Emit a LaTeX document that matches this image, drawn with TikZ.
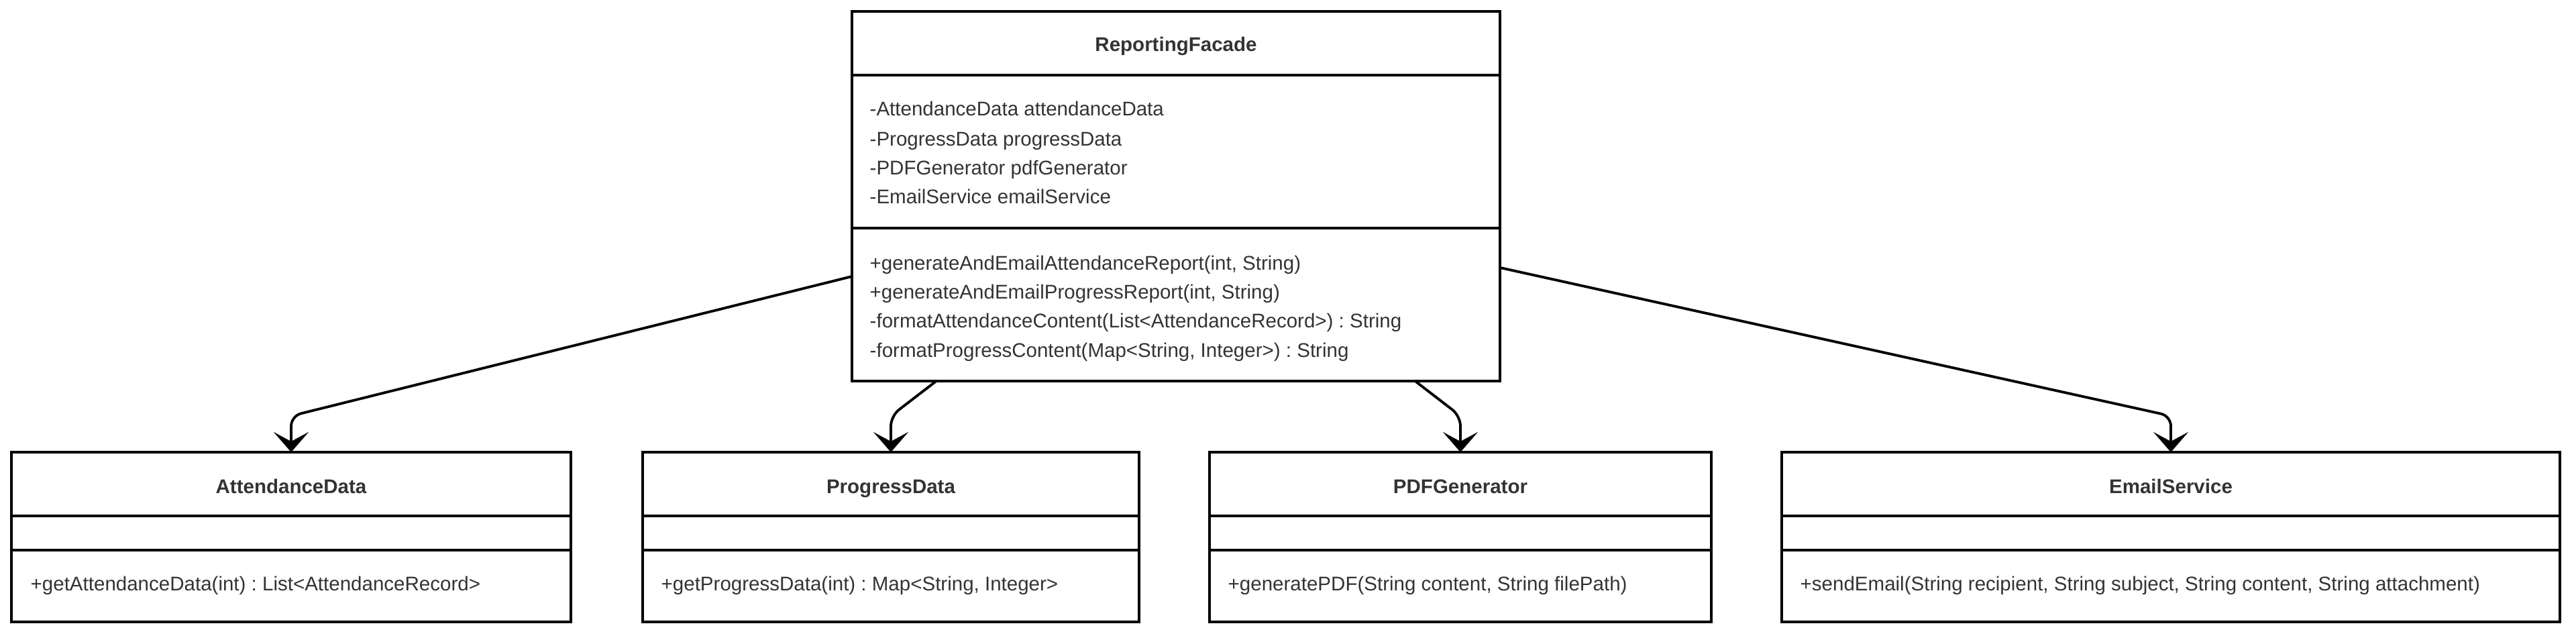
\documentclass[tikz,border=0pt]{standalone}
\usepackage{fontspec}
\setmainfont{Liberation Sans}
\usetikzlibrary{arrows.meta}
\definecolor{umltext}{HTML}{333333}
\frenchspacing

\begin{document}
\begin{tikzpicture}[every node/.style={text=umltext, font=\fontsize{8.4pt}{12.4pt}\selectfont},
        cls/.style={draw, line width=1.1pt, inner sep=0, outer sep=0, anchor=north west, minimum height=2.53cm},
        ttl/.style={anchor=base, inner sep=0, font=\fontsize{8.4pt}{12.4pt}\selectfont\bfseries},
        mbr/.style={anchor=base west, inner sep=0},
        sep/.style={line width=1.1pt},
        dep/.style={line width=1.1pt, rounded corners=0.15cm, -{Stealth[length=0.3cm, width=0.52cm, inset=0.14cm]}}]
            \useasboundingbox (0,0) rectangle (38.40,-9.47);

            % facade
            \node[cls, minimum width=9.66cm, minimum height=5.51cm] (facade) at (12.70,-0.17) {};
            \draw[sep] (facade.west |- 0,-1.12) -- (facade.east |- 0,-1.12);
            \draw[sep] (facade.west |- 0,-3.40) -- (facade.east |- 0,-3.40);
            \node[ttl] (facadeT) at (17.53,-0.77) {ReportingFacade};
            \node[mbr] (fa1) at (12.96,-1.72) {-AttendanceData attendanceData};
            \node[mbr] (fa2) at (12.96,-2.17) {-ProgressData progressData};
            \node[mbr] (fa3) at (12.96,-2.60) {-PDFGenerator pdfGenerator};
            \node[mbr] (fa4) at (12.96,-3.03) {-EmailService emailService};
            \node[mbr] (fm1) at (12.96,-4.02) {+generateAndEmailAttendanceReport(int, String)};
            \node[mbr] (fm2) at (12.96,-4.45) {+generateAndEmailProgressReport(int, String)};
            \node[mbr] (fm3) at (12.96,-4.88) {-formatAttendanceContent(List<AttendanceRecord>) : String};
            \node[mbr] (fm4) at (12.96,-5.32) {-formatProgressContent(Map<String, Integer>) : String};

            % subsystems
            \node[cls, minimum width=8.34cm] (att) at (0.17,-6.74) {};
            \node[cls, minimum width=7.40cm] (prog) at (9.58,-6.74) {};
            \node[cls, minimum width=7.48cm] (pdf) at (18.03,-6.74) {};
            \node[cls, minimum width=11.60cm] (mail) at (26.56,-6.74) {};

            \draw[sep] (att.west |- 0,-7.69) -- (att.east |- 0,-7.69);
            \draw[sep] (att.west |- 0,-8.20) -- (att.east |- 0,-8.20);
            \draw[sep] (prog.west |- 0,-7.69) -- (prog.east |- 0,-7.69);
            \draw[sep] (prog.west |- 0,-8.20) -- (prog.east |- 0,-8.20);
            \draw[sep] (pdf.west |- 0,-7.69) -- (pdf.east |- 0,-7.69);
            \draw[sep] (pdf.west |- 0,-8.20) -- (pdf.east |- 0,-8.20);
            \draw[sep] (mail.west |- 0,-7.69) -- (mail.east |- 0,-7.69);
            \draw[sep] (mail.west |- 0,-8.20) -- (mail.east |- 0,-8.20);

            \node[ttl] (attT) at (4.34,-7.35) {AttendanceData};
            \node[ttl] (progT) at (13.28,-7.35) {ProgressData};
            \node[ttl] (pdfT) at (21.77,-7.35) {PDFGenerator};
            \node[ttl] (mailT) at (32.36,-7.35) {EmailService};

            \node[mbr] (attM) at (0.45,-8.80) {+getAttendanceData(int) : List<AttendanceRecord>};
            \node[mbr] (progM) at (9.85,-8.80) {+getProgressData(int) : Map<String, Integer>};
            \node[mbr] (pdfM) at (18.30,-8.80) {+generatePDF(String content, String filePath)};
            \node[mbr] (mailM) at (26.83,-8.80) {+sendEmail(String recipient, String subject, String content, String attachment)};

            % dependencies
            \draw[dep] (facade) -- ([yshift=0.54cm]att.north) -- (att.north);
            \draw[dep] (facade) -- ([yshift=0.54cm]prog.north) -- (prog.north);
            \draw[dep] (facade) -- ([yshift=0.54cm]pdf.north) -- (pdf.north);
            \draw[dep] (facade) -- ([yshift=0.54cm]mail.north) -- (mail.north);
        \end{tikzpicture}
\end{document}
